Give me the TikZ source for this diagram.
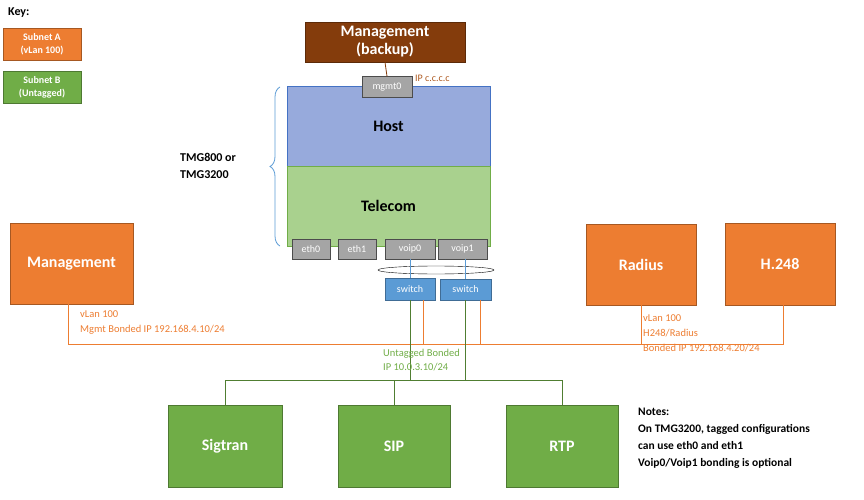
\documentclass[tikz,border=0pt]{standalone}
\usepackage{fontspec}
\setmainfont{Carlito}
\usetikzlibrary{decorations.pathreplacing,shapes.geometric}
\definecolor{org}{HTML}{ED7D31}
\definecolor{orgd}{HTML}{AE5A21}
\definecolor{grn}{HTML}{70AD47}
\definecolor{grnd}{HTML}{507E32}
\definecolor{brn}{HTML}{843C0C}
\definecolor{hostc}{HTML}{97AADC}
\definecolor{telc}{HTML}{A9D18E}
\definecolor{gry}{HTML}{A5A5A5}
\definecolor{swc}{HTML}{5B9BD5}
\definecolor{bluel}{HTML}{4472C4}
\begin{document}
\begin{tikzpicture}[x=1pt,y=-1pt,
 box/.style={draw=#1!70!black,fill=#1,inner sep=0,font=\bfseries\color{white}},
 big/.style={font=\fontsize{16}{18}\selectfont\bfseries\color{white}},
 port/.style={draw=gray!60!black,fill=gry,inner sep=0,font=\fontsize{10}{11}\selectfont\color{white}},
 olab/.style={anchor=north west,inner sep=0,align=left,font=\fontsize{10.5}{15}\selectfont\color{org}},
 oline/.style={draw=org,line width=0.8pt},
 gline/.style={draw=grnd,line width=0.8pt}]
\useasboundingbox (0,0) rectangle (864,500);
% key
\node[anchor=west,inner sep=0,font=\fontsize{12}{14}\selectfont\bfseries] (key) at (8,13) {Key:};
\node[box=org,minimum width=78,minimum height=32,align=center,font=\fontsize{10}{13}\selectfont\bfseries\color{white}] (ka) at (42,44) {Subnet A\\(vLan 100)};
\node[box=grn,minimum width=78,minimum height=32,align=center,font=\fontsize{10}{13}\selectfont\bfseries\color{white}] (kb) at (42,87) {Subnet B\\(Untagged)};
% top
\node[box=brn,minimum width=160,minimum height=40,align=center,big,font=\fontsize{16}{18}\selectfont\bfseries\color{white}] (mb) at (385,42) {Management\\(backup)};
\node[draw=bluel,fill=hostc,minimum width=203,minimum height=80,inner sep=0,font=\fontsize{16}{18}\selectfont\bfseries] (host) at (388.5,126) {Host};
\node[draw=grn,fill=telc,minimum width=203,minimum height=80,inner sep=0,font=\fontsize{16}{18}\selectfont\bfseries] (tel) at (388.5,206) {Telecom};
\node[port,minimum width=50,minimum height=21] (mg) at (387,87) {mgmt0};
\node[anchor=west,inner sep=0,font=\fontsize{10}{12}\selectfont\color{orgd}] (ipc) at (415,78) {IP c.c.c.c};
\draw[brn,line width=0.8pt] (mb.south) -- (mg.north);
\node[port,minimum width=38,minimum height=20] (e0) at (311,249) {eth0};
\node[port,minimum width=38,minimum height=20] (e1) at (357,249) {eth1};
\node[port,minimum width=50,minimum height=20] (v0) at (410,249) {voip0};
\node[port,minimum width=49,minimum height=20] (v1) at (462.5,249) {voip1};
\draw[decorate,decoration={brace,amplitude=10pt},swc,line width=0.8pt] (280,246) -- (280,87);
\node[align=left,inner sep=0,anchor=west,font=\fontsize{12}{17}\selectfont\bfseries] (tmg) at (180,166) {TMG800 or\\TMG3200};
\node[draw=black,ellipse,minimum width=116,minimum height=8,inner sep=0] (bond) at (436,270) {};
\node[draw=swc!70!black,fill=swc,minimum width=50,minimum height=22,inner sep=0,font=\fontsize{10}{12}\selectfont\color{white}] (s1) at (410,289) {switch};
\node[draw=swc!70!black,fill=swc,minimum width=51,minimum height=21,inner sep=0,font=\fontsize{10}{12}\selectfont\color{white}] (s2) at (465.5,289.5) {switch};
\draw[swc,line width=0.8pt] (v0.south) -- (s1.north);
\draw[swc,line width=0.8pt] (v1.south -| s2.north) -- (s2.north);
% side boxes
\node[box=org,minimum width=123,minimum height=81,font=\fontsize{16}{18}\selectfont\bfseries\color{white}] (mgt) at (71.5,263.5) {Management};
\node[box=org,minimum width=110,minimum height=81,font=\fontsize{16}{18}\selectfont\bfseries\color{white}] (rad) at (641,264.5) {Radius};
\node[box=org,minimum width=110,minimum height=82,font=\fontsize{16}{18}\selectfont\bfseries\color{white}] (h248) at (780,264) {H.248};
% orange bus
\coordinate (oa) at (68,344);
\coordinate (ob) at (783,344);
\draw[oline] (mgt.south -| oa) -- (oa) -- (ob) -- (h248.south -| ob);
\draw[oline] (rad.south) -- (rad.south |- oa);
\draw[oline] ([xshift=13]s1.south) -- ([xshift=13]s1.south |- oa);
\draw[oline] ([xshift=15]s2.south) -- ([xshift=15]s2.south |- oa);
\node[olab] (l1) at (80,310) {vLan 100\\Mgmt Bonded IP 192.168.4.10/24};
\node[olab] (l2) at (643,314) {vLan 100\\H248/Radius\\Bonded IP 192.168.4.20/24};
% green
\node[box=grn,minimum width=114,minimum height=82,font=\fontsize{16}{18}\selectfont\bfseries\color{white}] (sig) at (225,446) {Sigtran};
\node[box=grn,minimum width=112,minimum height=82,font=\fontsize{16}{18}\selectfont\bfseries\color{white}] (sip) at (394,446) {SIP};
\node[box=grn,minimum width=112,minimum height=82,font=\fontsize{16}{18}\selectfont\bfseries\color{white}] (rtp) at (562,446) {RTP};
\coordinate (ga) at (225,380);
\coordinate (gb) at (562,380);
\draw[gline] (sig.north) -- (ga) -- (gb) -- (rtp.north);
\draw[gline] (sip.north) -- (sip.north |- ga);
\draw[gline] (s1.south) -- (s1.south |- ga);
\draw[gline] (s2.south) -- (s2.south |- ga);
\node[anchor=north west,inner sep=0,align=left,font=\fontsize{10.5}{14}\selectfont\color{grn}] (gl) at (383,349) {Untagged Bonded\\IP 10.0.3.10/24};
\node[anchor=north west,inner sep=0,align=left,font=\fontsize{11.5}{17}\selectfont\bfseries] (notes) at (638,408) {Notes:\\On TMG3200,\ tagged configurations\\can use eth0 and eth1\\Voip0/Voip1 bonding is optional};
\end{tikzpicture}
\end{document}
